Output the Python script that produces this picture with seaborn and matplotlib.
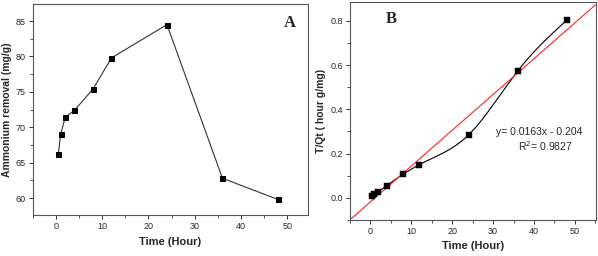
import numpy as np
import matplotlib
matplotlib.use("Agg")
import matplotlib.pyplot as plt
from matplotlib.ticker import MultipleLocator, FormatStrFormatter
import seaborn as sns

# ---- data ----
time_h = [0.5, 1, 2, 4, 8, 12, 24, 36, 48]
removal = [66.2, 69.0, 71.4, 72.4, 75.4, 79.8, 84.5, 62.8, 59.8]
t_over_qt = [0.008, 0.015, 0.028, 0.055, 0.106, 0.150, 0.284, 0.573, 0.803]
fit_slope = 0.0162
fit_intercept = -0.019
fit_x = [-5, 55]
equation_text = "y= 0.0163x - 0.204"
r2_text = "R$^2$= 0.9827"


def natural_spline(x, y, n=400):
    """Smooth curve through the points (natural cubic spline)."""
    x = np.asarray(x, float)
    y = np.asarray(y, float)
    k = len(x)
    h = np.diff(x)
    A = np.zeros((k, k))
    b = np.zeros(k)
    A[0, 0] = A[-1, -1] = 1
    for i in range(1, k - 1):
        A[i, i - 1] = h[i - 1]
        A[i, i] = 2 * (h[i - 1] + h[i])
        A[i, i + 1] = h[i]
        b[i] = 3 * ((y[i + 1] - y[i]) / h[i] - (y[i] - y[i - 1]) / h[i - 1])
    c = np.linalg.solve(A, b)
    xs = np.linspace(x[0], x[-1], n)
    idx = np.clip(np.searchsorted(x, xs) - 1, 0, k - 2)
    dx = xs - x[idx]
    hi = h[idx]
    bb = (y[idx + 1] - y[idx]) / hi - hi * (2 * c[idx] + c[idx + 1]) / 3
    d = (c[idx + 1] - c[idx]) / (3 * hi)
    ys = y[idx] + bb * dx + c[idx] * dx ** 2 + d * dx ** 3
    return xs, ys


sns.set_style("ticks")
plt.rcParams["font.family"] = ["Liberation Sans", "DejaVu Sans"]
plt.rcParams["axes.linewidth"] = 0.8

fig = plt.figure(figsize=(5.98, 2.56), dpi=100)
ax_a = fig.add_axes([0.055, 0.160, 0.460, 0.824])
ax_b = fig.add_axes([0.585, 0.141, 0.412, 0.851])

# --- Panel A ---
sns.lineplot(x=time_h, y=removal, ax=ax_a, color="#333333", linewidth=0.8,
             marker="s", markersize=3.6, markeredgecolor="black",
             markerfacecolor="black")
ax_a.set_xlim(-5, 54.5)
ax_a.set_ylim(57.6, 87.4)
ax_a.xaxis.set_major_locator(MultipleLocator(10))
ax_a.xaxis.set_minor_locator(MultipleLocator(5))
ax_a.yaxis.set_major_locator(MultipleLocator(5))
ax_a.yaxis.set_minor_locator(MultipleLocator(2.5))
ax_a.set_xlabel("Time (Hour)", fontsize=8, fontweight="bold")
ax_a.set_ylabel("Ammonium removal (mg/g)", fontsize=7.5, fontweight="bold",
                labelpad=3)
ax_a.text(0.935, 0.91, "A", transform=ax_a.transAxes, fontsize=12,
          fontweight="bold", family=["Liberation Serif"], ha="center",
          va="center")

# --- Panel B ---
sx, sy = natural_spline(time_h, t_over_qt)
ax_b.plot(sx, sy, color="black", linewidth=0.8)
sns.scatterplot(x=time_h, y=t_over_qt, ax=ax_b, marker="s", s=14,
                color="black", edgecolor="black", zorder=3)
fy = [fit_slope * v + fit_intercept for v in fit_x]
sns.lineplot(x=fit_x, y=fy, ax=ax_b, color="#ff2020", linewidth=0.8)
ax_b.set_xlim(-5, 55.2)
ax_b.set_ylim(-0.1, 0.885)
ax_b.xaxis.set_major_locator(MultipleLocator(10))
ax_b.xaxis.set_minor_locator(MultipleLocator(5))
ax_b.yaxis.set_major_locator(MultipleLocator(0.2))
ax_b.yaxis.set_minor_locator(MultipleLocator(0.1))
ax_b.yaxis.set_major_formatter(FormatStrFormatter("%.1f"))
ax_b.set_xlabel("Time (Hour)", fontsize=8, fontweight="bold")
ax_b.set_ylabel("T/Qt ( hour g/mg)", fontsize=7.5, fontweight="bold",
                labelpad=3)
ax_b.text(0.17, 0.92, "B", transform=ax_b.transAxes, fontsize=12,
          fontweight="bold", family=["Liberation Serif"], ha="center",
          va="center")
ax_b.text(41.3, 0.298, equation_text, fontsize=7.5, ha="center", va="center")
ax_b.text(42.8, 0.232, r2_text, fontsize=7.5, ha="center", va="center")

for ax in (ax_a, ax_b):
    for sp in ax.spines.values():
        sp.set_visible(True)
        sp.set_color("#555555")
    ax.tick_params(which="major", direction="out", length=3, width=0.7,
                   labelsize=6.5, pad=2, color="#333333")
    ax.tick_params(which="minor", direction="out", length=2, width=0.6,
                   color="#333333")

fig.savefig("out.png", dpi=100)
